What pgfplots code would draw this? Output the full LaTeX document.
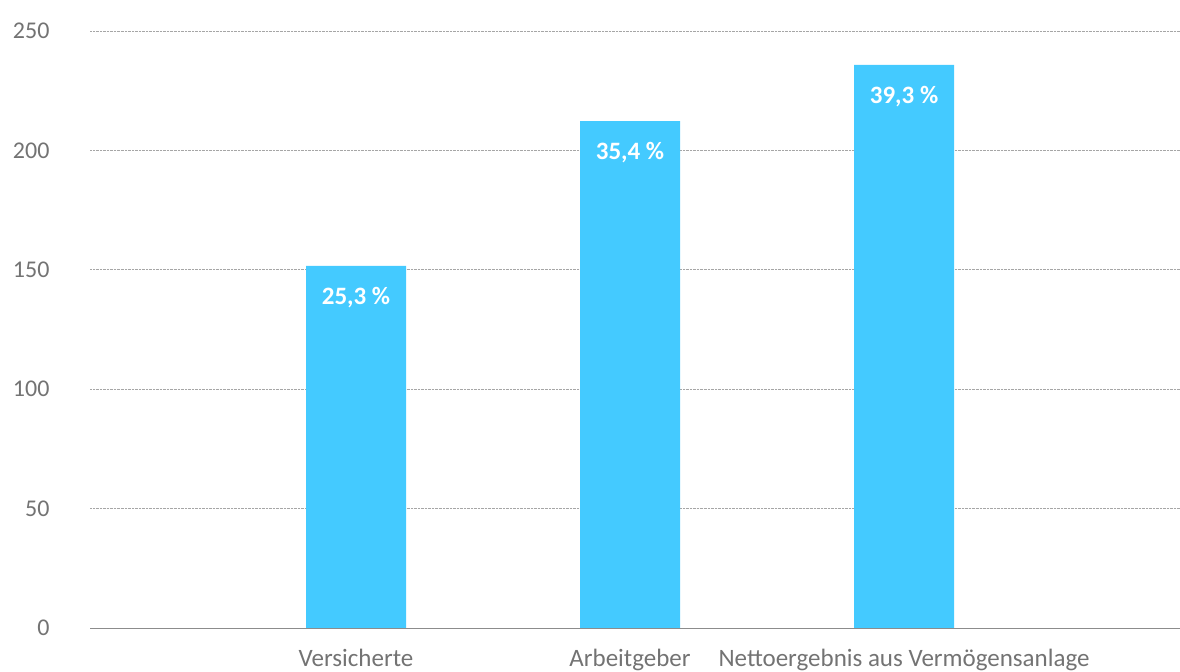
\documentclass[border=0pt]{standalone}
\usepackage{pgfplots}
\pgfplotsset{compat=1.18}
\usepackage{fontspec}
\setmainfont{Carlito}
\definecolor{barblue}{RGB}{68,202,255}
\definecolor{txtgray}{RGB}{115,115,115}
\begin{document}
\begin{tikzpicture}
\useasboundingbox (0,0) rectangle (1180bp,672bp);
\begin{axis}[
  at={(90bp,44bp)}, anchor=origin,
  scale only axis,
  width=1090bp, height=597bp,
  xmin=0.0292, xmax=4.007,
  ymin=0, ymax=250,
  axis line style={draw=none},
  tick style={draw=none},
  major tick length=0pt,
  ytick={50,100,150,200,250},
  extra y ticks={0},
  extra y tick style={grid style={solid, draw=gray!90, line width=1pt}},
  ymajorgrids,
  grid style={densely dotted, draw=gray!70, line width=0.8pt},
  xtick={1,2,3},
  xticklabels={Versicherte, Arbeitgeber, Nettoergebnis aus Vermögensanlage},
  tick label style={font=\fontsize{24bp}{28bp}\selectfont, text=txtgray},
  xticklabel style={font=\fontsize{25bp}{29bp}\selectfont, anchor=north, yshift=-18bp},
  /pgf/number format/assume math mode=true,
  yticklabel style={anchor=east, xshift=-37bp},
  ybar, bar width=100bp,
  point meta=explicit symbolic,
  nodes near coords,
  nodes near coords style={anchor=north, yshift=-18bp, text=white, font=\fontsize{25bp}{29bp}\selectfont\bfseries},
]
\addplot[fill=barblue, draw=none] coordinates {
  (1,151.6) [25,3 \%]
  (2,212.3) [35,4 \%]
  (3,235.8) [39,3 \%]
};
\end{axis}
\end{tikzpicture}
\end{document}
